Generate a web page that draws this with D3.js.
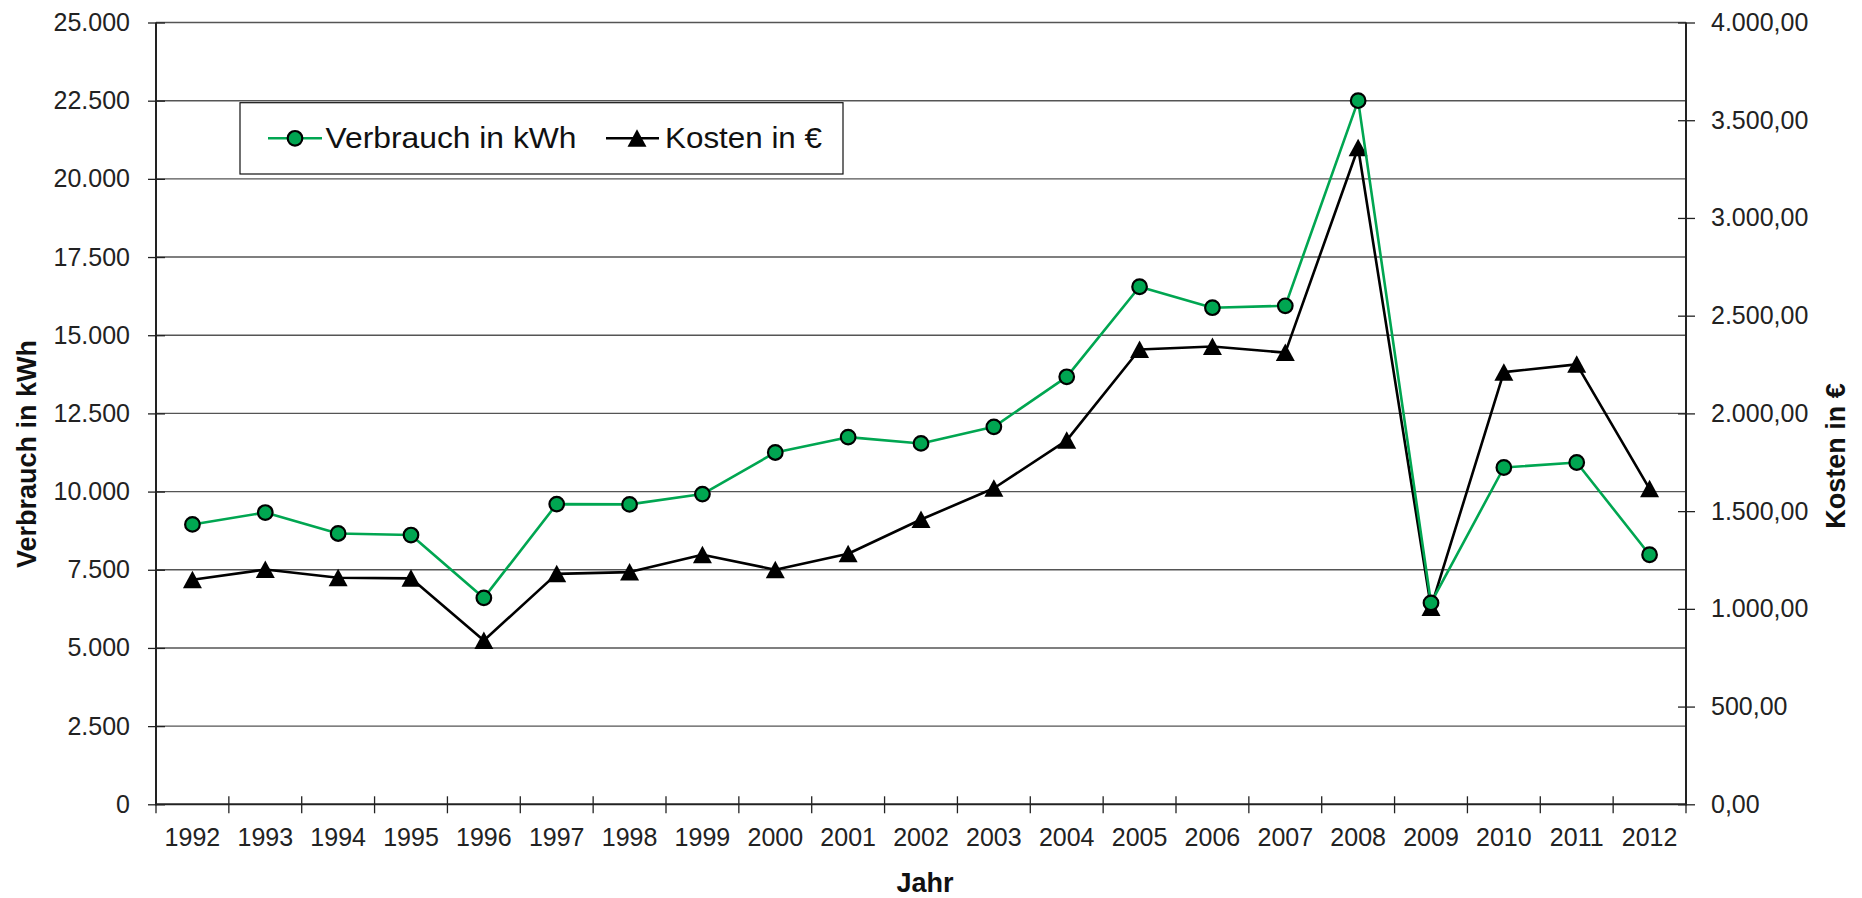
<!DOCTYPE html>
<html>
<head>
<meta charset="utf-8">
<script src="https://cdn.jsdelivr.net/npm/d3@7"></script>
<style>
  html, body { margin: 0; padding: 0; background: #fff; }
  svg { display: block; font-family: "Liberation Sans", Arial, sans-serif; }
</style>
</head>
<body>
<svg id="chart" width="1862" height="898"></svg>
<script>
// ---- data ----
const years = ["1992","1993","1994","1995","1996","1997","1998","1999","2000","2001","2002",
               "2003","2004","2005","2006","2007","2008","2009","2010","2011","2012"];
const verbrauch = [8950, 9330, 8660, 8610, 6600, 9600, 9590, 9920, 11250, 11740, 11540,
                   12070, 13670, 16550, 15880, 15940, 22500, 6440, 10770, 10930, 7980];
const kosten = [1149, 1201, 1159, 1156, 838, 1179, 1188, 1277, 1200, 1282, 1457,
                1617, 1862, 2327, 2342, 2311, 3359, 1007, 2211, 2251, 1614];
const leftTicks = [0, 2500, 5000, 7500, 10000, 12500, 15000, 17500, 20000, 22500, 25000];
const rightTicks = [0, 500, 1000, 1500, 2000, 2500, 3000, 3500, 4000];
const seriesNames = ["Verbrauch in kWh", "Kosten in €"];
const axisTitles = { left: "Verbrauch in kWh", right: "Kosten in €", bottom: "Jahr" };

// ---- layout ----
const L = 156, R = 1686, T = 22.5, B = 804.3;
const GREEN = "#00a651";
const svg = d3.select("#chart");

const de = d3.formatLocale({ decimal: ",", thousands: ".", grouping: [3], currency: ["", ""] });
const fmtL = de.format(",.0f");
const fmtR = de.format(",.2f");

const x = d3.scaleBand().domain(years).range([L, R]).padding(0);
const yL = d3.scaleLinear().domain([0, 25000]).range([B, T]);
const yR = d3.scaleLinear().domain([0, 4000]).range([B, T]);

// gridlines
svg.append("g").selectAll("line").data(leftTicks.filter(d => d > 0)).join("line")
  .attr("x1", L).attr("x2", R)
  .attr("y1", d => yL(d)).attr("y2", d => yL(d))
  .attr("stroke", "#555").attr("stroke-width", 1.4);

// left axis
const gL = svg.append("g").attr("transform", `translate(${L},0)`)
  .call(d3.axisLeft(yL).tickValues(leftTicks).tickFormat(fmtL).tickSize(8).tickPadding(18));
gL.select(".domain").remove();
gL.selectAll(".tick line").attr("x1", 9).attr("x2", -8).attr("stroke", "#222").attr("stroke-width", 1.3);
gL.selectAll(".tick text").attr("font-size", 25).attr("fill", "#222")
  .attr("font-family", "'Liberation Sans', Arial, sans-serif");

// right axis
const gR = svg.append("g").attr("transform", `translate(${R},0)`)
  .call(d3.axisRight(yR).tickValues(rightTicks).tickFormat(fmtR).tickSize(9).tickPadding(16));
gR.select(".domain").remove();
gR.selectAll(".tick line").attr("x1", -8).attr("x2", 9).attr("stroke", "#222").attr("stroke-width", 1.3);
gR.selectAll(".tick text").attr("font-size", 25).attr("fill", "#222")
  .attr("font-family", "'Liberation Sans', Arial, sans-serif");

// bottom axis: labels at category centers, ticks at boundaries
const gB = svg.append("g").attr("transform", `translate(0,${B})`)
  .call(d3.axisBottom(x).tickSize(0).tickPadding(24));
gB.select(".domain").remove();
gB.selectAll(".tick text").attr("font-size", 25).attr("fill", "#222")
  .attr("font-family", "'Liberation Sans', Arial, sans-serif");
const bounds = years.map(d => x(d)).concat([x(years[years.length - 1]) + x.bandwidth()]);
svg.append("g").selectAll("line").data(bounds).join("line")
  .attr("x1", d => d).attr("x2", d => d).attr("y1", B - 8).attr("y2", B + 9)
  .attr("stroke", "#222").attr("stroke-width", 1.3);

// axis lines
svg.append("line").attr("x1", L).attr("x2", L).attr("y1", T).attr("y2", B + 1)
  .attr("stroke", "#222").attr("stroke-width", 2);
svg.append("line").attr("x1", R).attr("x2", R).attr("y1", T).attr("y2", B + 1)
  .attr("stroke", "#222").attr("stroke-width", 2);
svg.append("line").attr("x1", L - 1).attr("x2", R + 1).attr("y1", B).attr("y2", B)
  .attr("stroke", "#222").attr("stroke-width", 2);

// axis titles
svg.append("text").text(axisTitles.left)
  .attr("transform", `translate(36,454) rotate(-90)`).attr("text-anchor", "middle")
  .attr("font-size", 27).attr("font-weight", "bold").attr("fill", "#111");
svg.append("text").text(axisTitles.right)
  .attr("transform", `translate(1845,456) rotate(-90)`).attr("text-anchor", "middle")
  .attr("font-size", 27).attr("font-weight", "bold").attr("fill", "#111");
svg.append("text").text(axisTitles.bottom)
  .attr("x", (L + R) / 2 + 4).attr("y", 892).attr("text-anchor", "middle")
  .attr("font-size", 27).attr("font-weight", "bold").attr("fill", "#111");

const cx = d => x(d) + x.bandwidth() / 2;
const triPath = (px, py) => `M${px},${py - 9} L${px + 9.5},${py + 8.5} L${px - 9.5},${py + 8.5} Z`;

// Kosten series (secondary axis)
const kData = years.map((y, i) => [cx(y), yR(kosten[i])]);
svg.append("path").attr("d", d3.line()(kData))
  .attr("fill", "none").attr("stroke", "#000").attr("stroke-width", 2.6).attr("stroke-linejoin", "round");
svg.append("g").selectAll("path").data(kData).join("path")
  .attr("d", d => triPath(d[0], d[1])).attr("fill", "#000");

// Verbrauch series
const vData = years.map((y, i) => [cx(y), yL(verbrauch[i])]);
svg.append("path").attr("d", d3.line()(vData))
  .attr("fill", "none").attr("stroke", GREEN).attr("stroke-width", 2.6).attr("stroke-linejoin", "round");
svg.append("g").selectAll("circle").data(vData).join("circle")
  .attr("cx", d => d[0]).attr("cy", d => d[1]).attr("r", 7.3)
  .attr("fill", GREEN).attr("stroke", "#000").attr("stroke-width", 2.2);

// legend
const lg = svg.append("g");
lg.append("rect").attr("x", 240).attr("y", 102.7).attr("width", 603).attr("height", 71.3)
  .attr("fill", "#fff").attr("stroke", "#111").attr("stroke-width", 1.2);
const ly = 138.3;
lg.append("line").attr("x1", 268).attr("x2", 322).attr("y1", ly).attr("y2", ly)
  .attr("stroke", GREEN).attr("stroke-width", 2.6);
lg.append("circle").attr("cx", 295).attr("cy", ly).attr("r", 7.3)
  .attr("fill", GREEN).attr("stroke", "#000").attr("stroke-width", 2.2);
lg.append("text").text(seriesNames[0]).attr("x", 325.5).attr("y", 148)
  .attr("font-size", 30).attr("fill", "#111")
  .attr("textLength", 251).attr("lengthAdjust", "spacingAndGlyphs");
lg.append("line").attr("x1", 606).attr("x2", 659).attr("y1", ly).attr("y2", ly)
  .attr("stroke", "#000").attr("stroke-width", 2.6);
lg.append("path").attr("d", triPath(637, ly)).attr("fill", "#000");
lg.append("text").text(seriesNames[1]).attr("x", 665).attr("y", 148)
  .attr("font-size", 30).attr("fill", "#111")
  .attr("textLength", 157).attr("lengthAdjust", "spacingAndGlyphs");
</script>
</body>
</html>
